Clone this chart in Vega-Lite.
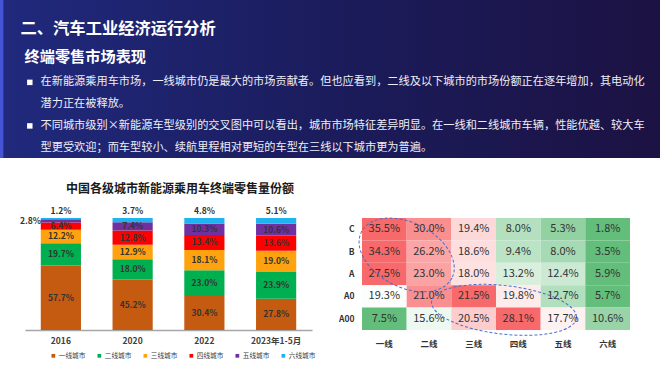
{
  "$schema": "https://vega.github.io/schema/vega-lite/v6.json",
  "padding": 0,
  "background": "white",
  "spacing": 24,
  "config": {
    "font": "Noto Sans CJK SC",
    "view": {"stroke": null},
    "axis": {"grid": false}
  },
  "datasets": {
    "header": [
      {"line": "h1", "text": "二、汽车工业经济运行分析"},
      {"line": "h2", "text": "终端零售市场表现"},
      {"line": "b1a", "text": "在新能源乘用车市场，一线城市仍是最大的市场贡献者。但也应看到，二线及以下城市的市场份额正在逐年增加，其电动化"},
      {"line": "b1b", "text": "潜力正在被释放。"},
      {"line": "b2a", "text": "不同城市级别×新能源车型级别的交叉图中可以看出，城市市场特征差异明显。在一线和二线城市车辆，性能优越、较大车"},
      {"line": "b2b", "text": "型更受欢迎；而车型较小、续航里程相对更短的车型在三线以下城市更为普遍。"}
    ],
    "share": [
      {"year": "2016", "city": "一线城市", "v": 57.7},
      {"year": "2016", "city": "二线城市", "v": 19.7},
      {"year": "2016", "city": "三线城市", "v": 12.2},
      {"year": "2016", "city": "四线城市", "v": 6.4},
      {"year": "2016", "city": "五线城市", "v": 2.8},
      {"year": "2016", "city": "六线城市", "v": 1.2},
      {"year": "2020", "city": "一线城市", "v": 45.2},
      {"year": "2020", "city": "二线城市", "v": 18.0},
      {"year": "2020", "city": "三线城市", "v": 12.9},
      {"year": "2020", "city": "四线城市", "v": 12.8},
      {"year": "2020", "city": "五线城市", "v": 7.4},
      {"year": "2020", "city": "六线城市", "v": 3.7},
      {"year": "2022", "city": "一线城市", "v": 30.4},
      {"year": "2022", "city": "二线城市", "v": 23.0},
      {"year": "2022", "city": "三线城市", "v": 18.1},
      {"year": "2022", "city": "四线城市", "v": 13.4},
      {"year": "2022", "city": "五线城市", "v": 10.3},
      {"year": "2022", "city": "六线城市", "v": 4.8},
      {"year": "2023年1-5月", "city": "一线城市", "v": 27.8},
      {"year": "2023年1-5月", "city": "二线城市", "v": 23.9},
      {"year": "2023年1-5月", "city": "三线城市", "v": 19.0},
      {"year": "2023年1-5月", "city": "四线城市", "v": 13.6},
      {"year": "2023年1-5月", "city": "五线城市", "v": 10.6},
      {"year": "2023年1-5月", "city": "六线城市", "v": 5.1}
    ],
    "heat": [
      {"row": "C", "col": "一线", "v": 35.5},
      {"row": "C", "col": "二线", "v": 30.0},
      {"row": "C", "col": "三线", "v": 19.4},
      {"row": "C", "col": "四线", "v": 8.0},
      {"row": "C", "col": "五线", "v": 5.3},
      {"row": "C", "col": "六线", "v": 1.8},
      {"row": "B", "col": "一线", "v": 34.3},
      {"row": "B", "col": "二线", "v": 26.2},
      {"row": "B", "col": "三线", "v": 18.6},
      {"row": "B", "col": "四线", "v": 9.4},
      {"row": "B", "col": "五线", "v": 8.0},
      {"row": "B", "col": "六线", "v": 3.5},
      {"row": "A", "col": "一线", "v": 27.5},
      {"row": "A", "col": "二线", "v": 23.0},
      {"row": "A", "col": "三线", "v": 18.0},
      {"row": "A", "col": "四线", "v": 13.2},
      {"row": "A", "col": "五线", "v": 12.4},
      {"row": "A", "col": "六线", "v": 5.9},
      {"row": "A0", "col": "一线", "v": 19.3},
      {"row": "A0", "col": "二线", "v": 21.0},
      {"row": "A0", "col": "三线", "v": 21.5},
      {"row": "A0", "col": "四线", "v": 19.8},
      {"row": "A0", "col": "五线", "v": 12.7},
      {"row": "A0", "col": "六线", "v": 5.7},
      {"row": "A00", "col": "一线", "v": 7.5},
      {"row": "A00", "col": "二线", "v": 15.6},
      {"row": "A00", "col": "三线", "v": 20.5},
      {"row": "A00", "col": "四线", "v": 28.1},
      {"row": "A00", "col": "五线", "v": 17.7},
      {"row": "A00", "col": "六线", "v": 10.6}
    ]
  },
  "vconcat": [
    {
      "width": 660,
      "height": 158,
      "layer": [
        {
          "data": {"values": [{"bg": 1}]},
          "mark": {
            "type": "rect",
            "color": {
              "gradient": "linear", "x1": 0, "y1": 0, "x2": 1, "y2": 0,
              "stops": [
                {"offset": 0, "color": "#4454d6"},
                {"offset": 0.004, "color": "#4454d6"},
                {"offset": 0.006, "color": "#20297c"},
                {"offset": 0.5, "color": "#1b1c5c"},
                {"offset": 1, "color": "#1c1243"}
              ]
            }
          },
          "encoding": {}
        },
        {
          "data": {"name": "header"},
          "transform": [{"filter": {"field": "line", "equal": "h1"}}],
          "mark": {"type": "text", "align": "left", "baseline": "middle", "x": 20.5, "dy": -9.5, "fontSize": 16.3, "fontWeight": "bold", "color": "#ffffff"},
          "encoding": {
            "y": {"field": "line", "type": "ordinal", "scale": {"type": "point", "domain": ["h1", "h2", "b1a", "b1b", "b2a", "b2b"], "range": [38.8, 147.7], "padding": 0}, "axis": null},
            "text": {"field": "text"}
          }
        },
        {
          "data": {"name": "header"},
          "transform": [{"filter": {"field": "line", "equal": "h2"}}],
          "mark": {"type": "text", "align": "left", "baseline": "middle", "x": 24.5, "dy": -3.1, "fontSize": 15.2, "fontWeight": "bold", "color": "#ffffff"},
          "encoding": {
            "y": {"field": "line", "type": "ordinal", "axis": null},
            "text": {"field": "text"}
          }
        },
        {
          "data": {"name": "header"},
          "transform": [{"filter": {"field": "line", "oneOf": ["b1a", "b2a"]}}],
          "mark": {"type": "point", "shape": "square", "filled": true, "size": 30, "x": 29.8, "color": "#ffffff", "opacity": 1},
          "encoding": {
            "y": {"field": "line", "type": "ordinal", "axis": null}
          }
        },
        {
          "data": {"name": "header"},
          "transform": [{"filter": {"field": "line", "oneOf": ["b1a", "b1b", "b2a", "b2b"]}}],
          "mark": {"type": "text", "align": "left", "baseline": "middle", "x": 40.5, "fontSize": 11.2, "color": "#eeeef6"},
          "encoding": {
            "y": {"field": "line", "type": "ordinal", "axis": null},
            "text": {"field": "text"}
          }
        }
      ]
    },
    {
      "bounds": "flush",
      "spacing": 50,
      "hconcat": [
        {
          "width": 312,
          "height": 112,
          "title": {"text": "中国各级城市新能源乘用车终端零售量份额", "fontSize": 12, "fontWeight": "bold", "color": "#1a1a1a", "offset": 11, "dx": 24},
          "data": {"name": "share"},
          "transform": [
            {"calculate": "indexof(['一线城市','二线城市','三线城市','四线城市','五线城市','六线城市'], datum.city)", "as": "k"},
            {"stack": "v", "groupby": ["year"], "sort": [{"field": "k", "order": "ascending"}], "as": ["v0", "v1"]},
            {"calculate": "(datum.v0 + datum.v1) / 2", "as": "vm"},
            {"calculate": "format(datum.v, '.1f') + '%'", "as": "label"}
          ],
          "encoding": {
            "x": {
              "field": "year", "type": "nominal",
              "sort": ["2016", "2020", "2022", "2023年1-5月"],
              "scale": {"paddingInner": 0.44, "paddingOuter": 0.22, "range": [25, 312]},
              "axis": {"title": null, "labelAngle": 0, "ticks": false, "domainColor": "#a6a6a6", "domainWidth": 1.5, "labelFontSize": 8.5, "labelFontWeight": "bold", "labelColor": "#404040", "labelPadding": 6}
            }
          },
          "layer": [
            {
              "mark": {"type": "bar"},
              "encoding": {
                "y": {"field": "v0", "type": "quantitative", "scale": {"domain": [0, 100]}, "axis": null},
                "y2": {"field": "v1"},
                "color": {
                  "field": "city", "type": "nominal",
                  "sort": ["一线城市", "二线城市", "三线城市", "四线城市", "五线城市", "六线城市"],
                  "scale": {"domain": ["一线城市", "二线城市", "三线城市", "四线城市", "五线城市", "六线城市"], "range": ["#c55a11", "#00b050", "#ffa20f", "#ff0000", "#7030a0", "#1fb4ef"]},
                  "legend": {"orient": "none", "legendX": 50, "legendY": 134, "direction": "horizontal", "title": null, "symbolType": "square", "symbolSize": 14, "symbolStrokeWidth": 0, "labelFontSize": 6.7, "labelColor": "#404040", "columnPadding": 10, "labelOffset": 2}
                }
              }
            },
            {
              "transform": [{"filter": "datum.city !== '六线城市' && !(datum.year === '2016' && datum.city === '五线城市')"}],
              "mark": {"type": "text", "fontSize": 8.5, "fontWeight": "bold", "color": "#333333", "baseline": "middle"},
              "encoding": {"y": {"field": "vm", "type": "quantitative", "axis": null}, "text": {"field": "label"}}
            },
            {
              "transform": [{"filter": "datum.city === '六线城市'"}],
              "mark": {"type": "text", "fontSize": 8.5, "fontWeight": "bold", "color": "#333333", "baseline": "bottom", "dy": -2},
              "encoding": {"y": {"field": "v1", "type": "quantitative", "axis": null}, "text": {"field": "label"}}
            },
            {
              "transform": [{"filter": "datum.year === '2016' && datum.city === '五线城市'"}],
              "mark": {"type": "text", "fontSize": 8.5, "fontWeight": "bold", "color": "#333333", "baseline": "middle", "align": "right", "dx": -20},
              "encoding": {"y": {"field": "vm", "type": "quantitative", "axis": null}, "text": {"field": "label"}}
            }
          ]
        },
        {
          "width": 268,
          "height": 112,
          "encoding": {
            "x": {"field": "col", "type": "nominal", "scale": {"domain": ["一线", "二线", "三线", "四线", "五线", "六线"]}, "axis": {"title": null, "orient": "bottom", "labelAngle": 0, "ticks": false, "domain": false, "labelFontSize": 8.5, "labelFontWeight": "bold", "labelColor": "#333333", "labelPadding": 9}},
            "y": {"field": "row", "type": "nominal", "scale": {"domain": ["C", "B", "A", "A0", "A00"]}, "axis": {"title": null, "ticks": false, "domain": false, "labelFontSize": 8.5, "labelFontWeight": "bold", "labelColor": "#333333", "labelPadding": 8}}
          },
          "layer": [
            {
              "data": {"name": "heat"},
              "transform": [
                {"joinaggregate": [{"op": "min", "field": "v", "as": "mn"}, {"op": "max", "field": "v", "as": "mx"}, {"op": "median", "field": "v", "as": "md"}], "groupby": ["row"]},
                {"calculate": "datum.v >= datum.md ? (datum.v - datum.md) / (datum.mx - datum.md) : (datum.v - datum.md) / (datum.md - datum.mn)", "as": "t"}
              ],
              "mark": {"type": "rect"},
              "encoding": {
                "color": {"field": "t", "type": "quantitative", "scale": {"domain": [-1, 0, 1], "range": ["#63be7b", "#ffffff", "#f8696b"], "interpolate": "rgb"}, "legend": null}
              }
            },
            {
              "data": {"name": "heat"},
              "transform": [{"calculate": "format(datum.v, '.1f') + '%'", "as": "label"}],
              "mark": {"type": "text", "fontSize": 11, "color": "#333333", "baseline": "middle"},
              "encoding": {"text": {"field": "label"}}
            },
            {
              "data": {"values": [{"col": "一线", "row": "B"}]},
              "mark": {"type": "point", "shape": "M1,0C1,0.3513,0.5523,0.636,0,0.636C-0.5523,0.636,-1,0.3513,-1,0C-1,-0.3513,-0.5523,-0.636,0,-0.636C0.5523,-0.636,1,-0.3513,1,0Z", "size": 10323, "angle": 27, "filled": false, "stroke": "#4a6fc8", "strokeWidth": 1, "strokeDash": [3, 2], "opacity": 1},
              "encoding": {
                "x": {"field": "col", "type": "nominal", "bandPosition": 1},
                "y": {"field": "row", "type": "nominal", "bandPosition": 0.65}
              }
            },
            {
              "data": {"values": [{"col": "四线", "row": "A00"}]},
              "mark": {"type": "point", "shape": "M1,0C1,0.1839,0.5523,0.333,0,0.333C-0.5523,0.333,-1,0.1839,-1,0C-1,-0.1839,-0.5523,-0.333,0,-0.333C0.5523,-0.333,1,-0.1839,1,0Z", "size": 21258, "angle": 6.5, "filled": false, "stroke": "#4a6fc8", "strokeWidth": 1, "strokeDash": [3, 2], "opacity": 1},
              "encoding": {
                "x": {"field": "col", "type": "nominal", "bandPosition": 0.18},
                "y": {"field": "row", "type": "nominal", "bandPosition": 0.1}
              }
            }
          ]
        }
      ]
    }
  ]
}
